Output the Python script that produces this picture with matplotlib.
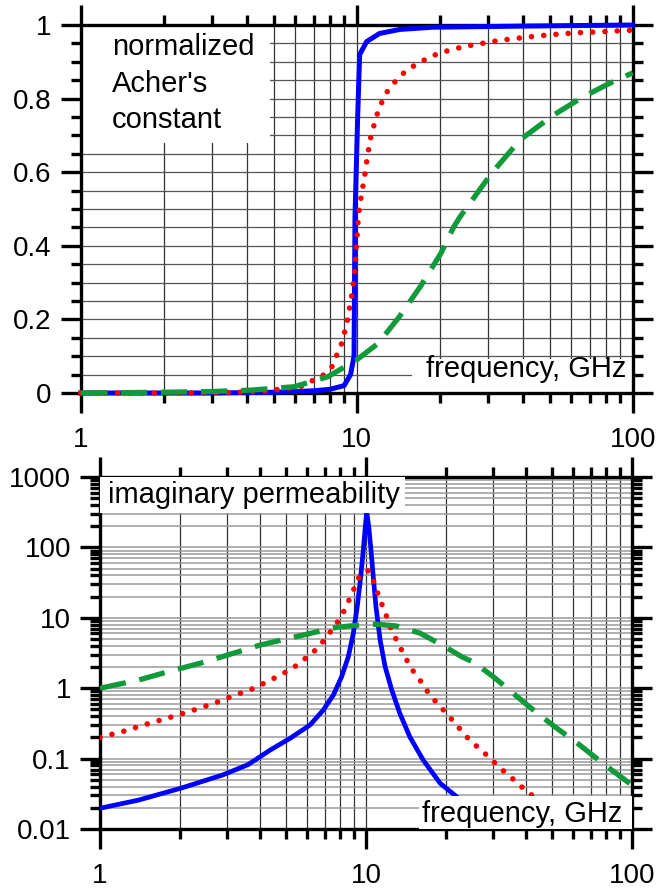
import matplotlib
matplotlib.use("Agg")
import matplotlib.pyplot as plt
from matplotlib.ticker import LogLocator, MultipleLocator, FuncFormatter, NullFormatter
from matplotlib.patches import Rectangle

plt.rcParams['font.family'] = ['Liberation Sans', 'DejaVu Sans']

# ---- top panel: normalized Acher's constant vs frequency (GHz) ----
acher_blue_f = [1, 3, 5, 7, 8, 9, 9.5, 9.78, 9.86, 10.08, 10.25, 10.87, 12.1, 14.35, 18.9, 40, 100]
acher_blue_v = [0, 0, 0.002, 0.006, 0.01, 0.02, 0.05, 0.1, 0.48, 0.75, 0.92, 0.955, 0.977, 0.988, 0.994, 0.997, 1.0]

acher_red_f = [1, 3, 4.48, 6.25, 7.58, 8.13, 8.87, 9.29, 9.62, 9.86, 10.0, 10.14, 10.28, 10.48,
               10.66, 10.81, 10.99, 11.17, 11.49, 11.81, 12.28, 12.91, 13.84, 14.87, 16.26, 17.9,
               19.8, 21.9, 24.3, 27.0, 30.0, 33.5, 41.3, 51.2, 63.5, 78.2, 100]
acher_red_v = [0, 0, 0.004, 0.017, 0.049, 0.071, 0.139, 0.203, 0.271, 0.339, 0.411, 0.479, 0.515, 0.553,
               0.583, 0.618, 0.651, 0.686, 0.721, 0.754, 0.787, 0.819, 0.848, 0.871, 0.891, 0.908,
               0.923, 0.932, 0.941, 0.947, 0.953, 0.959, 0.967, 0.974, 0.979, 0.982, 0.986]

acher_green_f = [1, 2, 3, 4.18, 5.93, 7.85, 10.0, 11.97, 14.26, 17.0, 20.2, 22.5, 23.7, 30.8, 39.1, 51.6, 66.2, 82.7, 100]
acher_green_v = [0, 0.002, 0.004, 0.008, 0.017, 0.044, 0.09, 0.135, 0.207, 0.289, 0.38, 0.452, 0.479,
                 0.597, 0.688, 0.755, 0.805, 0.842, 0.87]

# ---- bottom panel: imaginary permeability vs frequency (GHz) ----
perm_blue_f = [1, 1.4, 2.01, 2.89, 3.6, 4.36, 5.18, 6.16, 6.91, 7.54, 8.1, 8.58, 8.96, 9.27, 9.55,
               9.77, 9.94, 10.06, 10.24, 10.44, 10.65, 10.9, 11.3, 11.8, 12.5, 13.4, 14.6, 16.4,
               19.0, 21.9, 28.5, 31]
perm_blue_v = [0.0197, 0.0258, 0.0379, 0.0585, 0.082, 0.132, 0.194, 0.30, 0.49, 0.80, 1.46, 2.80, 6.0,
               14.4, 38, 92, 197, 321, 197, 92, 38, 14.4, 4.84, 2.02, 0.94, 0.44, 0.205, 0.0955,
               0.0446, 0.0288, 0.01, 0.0075]

perm_red_f = [1, 1.25, 1.53, 1.87, 2.30, 2.79, 3.11, 3.80, 4.59, 5.03, 5.52, 6.02, 6.53, 6.97, 7.43,
              7.94, 8.34, 8.71, 9.09, 9.49, 10.2, 10.7, 11.07, 11.5, 11.96, 12.4, 12.97, 13.6, 14.3,
              15.1, 16.1, 17.1, 18.3, 19.7, 21.1, 22.6, 24.2, 26.3, 28.6, 30.8, 33.1, 35.8, 39.0,
              42.4, 59, 65]
perm_red_v = [0.2, 0.249, 0.317, 0.394, 0.501, 0.644, 0.758, 1.0, 1.43, 1.72, 2.14, 2.80, 3.6, 4.84, 6.7,
              9.5, 13.3, 19.3, 27.7, 40.6, 46.7, 32.6, 22.3, 15.2, 10.4, 7.1, 4.96, 3.49, 2.43,
              1.71, 1.24, 0.875, 0.644, 0.474, 0.353, 0.261, 0.194, 0.145, 0.110, 0.0838, 0.0652, 0.0508, 0.0379,
              0.0294, 0.01, 0.008]

perm_green_f = [1, 1.4, 1.8, 2.5, 4.01, 5.81, 7.76, 9.5, 10.97, 13.0, 16.0, 19.5, 22.9, 25.6, 30.2,
                33.1, 41.1, 51.2, 63.6, 79.1, 100]
perm_green_v = [1.0, 1.31, 1.71, 2.38, 4.11, 5.7, 7.33, 7.9, 8.1, 7.65, 6.03, 4.02, 2.80, 2.3, 1.44,
                1.08, 0.546, 0.284, 0.156, 0.081, 0.042]

BLUE = '#0000ff'
RED = '#ff0000'
GREEN = '#109a3a'

fig = plt.figure(figsize=(6.58, 8.89), dpi=100)
ax1 = fig.add_axes([80.7 / 658, (889 - 393) / 889, 552 / 658, 368 / 889])
ax2 = fig.add_axes([100 / 658, (889 - 829) / 889, 532 / 658, 352 / 889])


def style(ax):
    for s in ax.spines.values():
        s.set_linewidth(2.4)
    ax.tick_params(which='both', direction='out', width=2.4, top=True, right=True,
                   labelsize=20, pad=6.5, colors='black')
    ax.tick_params(which='major', length=14.4)
    ax.tick_params(which='minor', length=7.2)
    ax.tick_params(axis='x', which='major', pad=10)
    ax.set_axisbelow(True)


fmt = FuncFormatter(lambda v, p: '%g' % v)

# top panel
ax1.set_xscale('log')
ax1.set_xlim(1, 100)
ax1.set_ylim(0, 1)
ax1.xaxis.set_major_locator(LogLocator(base=10))
ax1.xaxis.set_minor_locator(LogLocator(base=10, subs=range(2, 10), numticks=20))
ax1.xaxis.set_major_formatter(fmt)
ax1.xaxis.set_minor_formatter(NullFormatter())
ax1.yaxis.set_major_locator(MultipleLocator(0.2))
ax1.yaxis.set_minor_locator(MultipleLocator(0.05))
ax1.yaxis.set_major_formatter(fmt)
style(ax1)
ax1.grid(which='both', axis='x', color='#333333', lw=0.9)
ax1.grid(which='both', axis='y', color='#555555', lw=0.9)

ax1.plot(acher_blue_f, acher_blue_v, color=BLUE, lw=3.6, zorder=3, clip_on=False)
ax1.plot(acher_red_f, acher_red_v, color=RED, lw=4.0, ls=(0, (0.01, 2.2)),
         dash_capstyle='round', zorder=4, clip_on=False)
ax1.plot(acher_green_f, acher_green_v, color=GREEN, lw=3.8, ls=(0, (5, 2.6)), zorder=5, clip_on=False)

ax1.add_patch(Rectangle((0, (393 - 143) / 368), (270 - 80.7) / 552, (143 - 25) / 368,
                        transform=ax1.transAxes, fc='white', ec='none', zorder=1.5))
for txt, yb in [('normalized', 0.918), ("Acher's", 0.819), ('constant', 0.719)]:
    ax1.text(0.057, yb, txt, transform=ax1.transAxes, fontsize=21, va='baseline', ha='left', zorder=6)
ax1.add_patch(Rectangle((0.6, 0), 0.4, 0.093, transform=ax1.transAxes,
                        fc='white', ec='none', zorder=1.5))
ax1.text(0.988, 0.044, 'frequency, GHz', transform=ax1.transAxes, fontsize=21,
         va='baseline', ha='right', zorder=6)

# bottom panel
ax2.set_xscale('log')
ax2.set_yscale('log')
ax2.set_xlim(1, 100)
ax2.set_ylim(0.01, 1000)
ax2.xaxis.set_major_locator(LogLocator(base=10))
ax2.xaxis.set_minor_locator(LogLocator(base=10, subs=range(2, 10), numticks=20))
ax2.yaxis.set_major_locator(LogLocator(base=10, numticks=20))
ax2.yaxis.set_minor_locator(LogLocator(base=10, subs=range(2, 10), numticks=20))
ax2.xaxis.set_major_formatter(fmt)
ax2.yaxis.set_major_formatter(fmt)
ax2.xaxis.set_minor_formatter(NullFormatter())
ax2.yaxis.set_minor_formatter(NullFormatter())
style(ax2)
ax2.grid(which='both', axis='x', color='#333333', lw=0.9)
ax2.grid(which='both', axis='y', color='#9a9a9a', lw=1.1)

ax2.plot(perm_blue_f, perm_blue_v, color=BLUE, lw=3.4, zorder=3)
ax2.plot(perm_red_f, perm_red_v, color=RED, lw=4.0, ls=(0, (0.01, 2.2)),
         dash_capstyle='round', zorder=4)
ax2.plot(perm_green_f, perm_green_v, color=GREEN, lw=3.8, ls=(0, (5, 2.6)), zorder=5)

ax2.add_patch(Rectangle((0, 0.897), 0.573, 0.103, transform=ax2.transAxes,
                        fc='white', ec='none', zorder=6))
ax2.text(0.015, 0.925, 'imaginary permeability', transform=ax2.transAxes, fontsize=21,
         va='baseline', ha='left', zorder=7)
ax2.add_patch(Rectangle((0.6, 0), 0.4, 0.094, transform=ax2.transAxes,
                        fc='white', ec='none', zorder=6))
ax2.text(0.981, 0.02, 'frequency, GHz', transform=ax2.transAxes, fontsize=21,
         va='baseline', ha='right', zorder=7)

fig.savefig('out.png', dpi=100)
plt.close(fig)
